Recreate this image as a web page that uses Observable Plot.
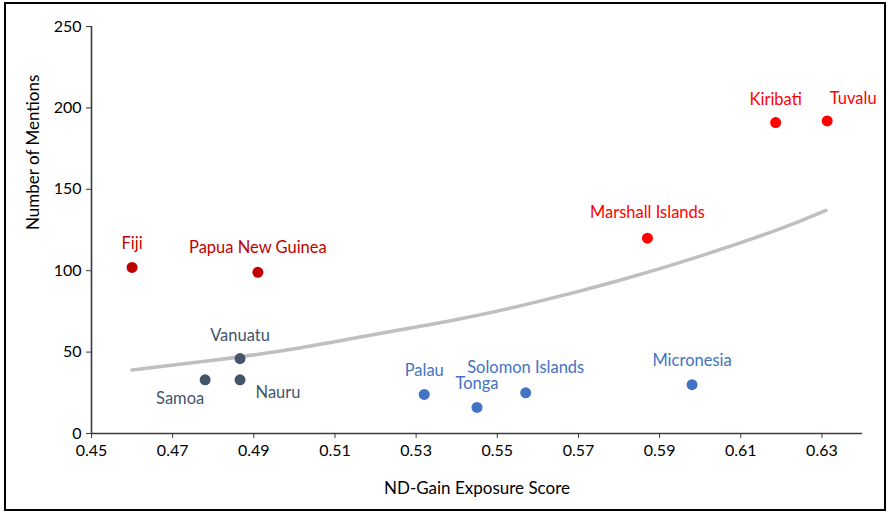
<!DOCTYPE html>
<html>
<head>
<meta charset="utf-8">
<script src="https://cdn.jsdelivr.net/npm/d3@7"></script>
<script src="https://cdn.jsdelivr.net/npm/@observablehq/plot@0.6"></script>
<style>
  html, body { margin: 0; padding: 0; background: #fff; }
  #wrap { position: relative; width: 888px; height: 512px; }
  #border { position: absolute; left: 4px; top: 2px; width: 878px; height: 505px; border: 2px solid #000; pointer-events: none; }
  svg { font-family: Lato, "Open Sans", sans-serif; }
</style>
</head>
<body>
<div id="wrap"><div id="chart"></div><div id="border"></div></div>
<script>
// Data
const countries = ["Fiji", "Papua New Guinea", "Vanuatu", "Samoa", "Nauru", "Palau", "Tonga", "Solomon Islands", "Micronesia", "Marshall Islands", "Kiribati", "Tuvalu"];
const exposure  = [0.460, 0.491, 0.4866, 0.478, 0.4866, 0.532, 0.545, 0.557, 0.598, 0.587, 0.6186, 0.6313];
const mentions  = [102, 99, 46, 33, 33, 24, 16, 25, 30, 120, 191, 192];
const groups    = ["A", "A", "B", "B", "B", "C", "C", "C", "C", "D", "D", "D"];

// Trend line
const trendX = [0.460, 0.480, 0.500, 0.520, 0.540, 0.560, 0.580, 0.600, 0.620, 0.631];
const trendY = [39, 45, 52, 61, 70, 81, 94, 109, 126, 137];

const xTicks = [0.45, 0.47, 0.49, 0.51, 0.53, 0.55, 0.57, 0.59, 0.61, 0.63];
const yTicks = [0, 50, 100, 150, 200, 250];
const xTitle = "ND-Gain Exposure Score";
const yTitle = "Number of Mentions";

// Styling
const groupColor = { A: "#C00000", B: "#44546A", C: "#4472C4", D: "#FF0000" };
const labelOffset = {
  "Fiji": [0, -24], "Papua New Guinea": [0, -25], "Vanuatu": [0, -23],
  "Samoa": [-25, 19], "Nauru": [38, 13], "Palau": [0, -24], "Tonga": [0, -24],
  "Solomon Islands": [0, -25], "Micronesia": [0, -24], "Marshall Islands": [0, -25],
  "Kiribati": [0, -23], "Tuvalu": [26, -22]
};

const pts = countries.map((c, i) => ({ name: c, x: exposure[i], y: mentions[i], g: groups[i] }));
const trend = trendX.map((x, i) => ({ x, y: trendY[i] }));

const axisColor = "#3a3a3a";
const plot = Plot.plot({
  width: 888,
  height: 512,
  marginLeft: 91,
  marginRight: 26,
  marginTop: 26,
  marginBottom: 79,
  style: { fontFamily: "Lato, 'Open Sans', sans-serif", fontSize: "16px", color: "#000", background: "#fff" },
  x: { domain: [0.45, 0.64] },
  y: { domain: [0, 250] },
  marks: [
    Plot.line(trend, { x: "x", y: "y", stroke: "#BFBFBF", strokeWidth: 3.5, curve: "natural" }),
    Plot.ruleY([0], { stroke: axisColor, strokeWidth: 1.6 }),
    Plot.ruleX([0.45], { stroke: axisColor, strokeWidth: 1.6 }),
    Plot.axisX({ ticks: xTicks, tickFormat: d3.format(".2f"), tickSize: 5, tickPadding: 6, stroke: axisColor, fill: "#000", fontSize: 16, label: null }),
    Plot.axisY({ ticks: yTicks, tickSize: 5, tickPadding: 5, stroke: axisColor, fill: "#000", fontSize: 16, label: null }),
    Plot.text([xTitle], { text: d => d, frameAnchor: "bottom", dy: 55, fontSize: 17, fill: "#000", lineAnchor: "middle" }),
    Plot.text([yTitle], { text: d => d, frameAnchor: "left", dx: -58, rotate: -90, fontSize: 17, fill: "#000", lineAnchor: "middle" }),
    Plot.dot(pts, { x: "x", y: "y", r: 5.5, fill: d => groupColor[d.g], stroke: "none" }),
    ...pts.map(d => Plot.text([d], { x: "x", y: "y", text: "name", fill: groupColor[d.g], fontSize: 16.5,
      dx: labelOffset[d.name][0], dy: labelOffset[d.name][1] }))
  ]
});
document.getElementById("chart").appendChild(plot);
</script>
</body>
</html>
